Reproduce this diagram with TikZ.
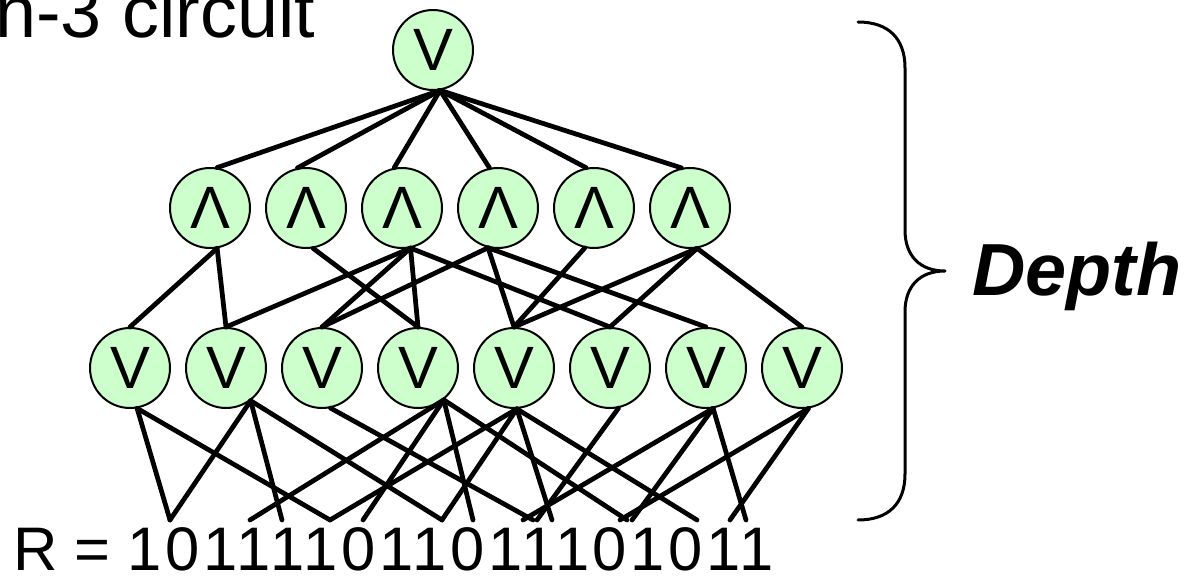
\documentclass[tikz,border=0pt]{standalone}
\usepackage{fontspec}
\setmainfont{Liberation Sans}
\usepackage{tikz}
\definecolor{gatefill}{RGB}{204,255,204}

\begin{document}
\begin{tikzpicture}[line cap=round,line join=round,x=0.02cm,y=-0.02cm,
	gate/.style={circle,draw,line width=0.04cm,fill=gatefill,minimum size=1.6cm,inner sep=0pt,font=\fontsize{34}{34}\selectfont},
	wire/.style={line width=0.095cm}]
	\useasboundingbox (0,0) rectangle (1187,577);
	% gates
	\node[gate] (top) at (433,50) {V};
	\foreach \i in {1,...,6} \node[gate] (a\i) at (114+96*\i,208) {Λ};
	\foreach \i in {1,...,8} \node[gate] (o\i) at (34+96*\i,368) {V};
	% input bits
	\foreach \x [count=\i] in {170,250,282,330,363,442,473,523,533,537,552,620,627,632,697,730,746}
		\coordinate (r\i) at (\x,520);
	% wires
	\foreach \i/\ang in {1/80,2/102,3/101,4/102,5/101,6/102}
		\draw[wire] (top.-80) -- (a\i.\ang);
	\foreach \a/\ang/\o in {1/-80/1,1/-80/2,2/-80/4,3/-78/2,3/-78/3,3/-78/4,3/-78/6,4/-104/3,4/-104/5,4/-104/7,5/-103/5,6/-80/5,6/-80/6,6/-80/8}
		\draw[wire] (a\a.\ang) -- (o\o.north);
	\foreach \o/\ang/\b in {1/-80/1,1/-80/4,2/-53/1,2/-53/3,2/-53/6,3/-78/9,4/-51/2,4/-51/5,4/-51/7,4/-51/13,5/-86/4,5/-86/6,5/-86/11,5/-86/15,6/-78/10,7/-80/8,7/-80/14,7/-80/17,8/-81/12,8/-81/16}
		\draw[wire] (o\o.\ang) -- (r\b);
	% brace
	\draw[line width=0.06cm] (858,22) .. controls (888,22) and (905,38) .. (905,68) -- (905,230) .. controls (905,256) and (920,271) .. (945,271) .. controls (920,271) and (905,286) .. (905,312) -- (905,474) .. controls (905,504) and (888,520) .. (858,520);
	% texts
	\node[anchor=base west,inner sep=0pt,font=\fontsize{42}{42}\selectfont] (title) at (-5,38) {n-3 circuit};
	\node[anchor=base west,inner sep=0pt,font=\fontsize{35}{35}\selectfont] (input) at (13,570) {R = {\addfontfeature{LetterSpace=6}101111011011101011}};
	\node[anchor=base west,inner sep=0pt,font=\fontsize{42}{42}\selectfont\bfseries\itshape] (depth) at (972,296) {Depth};
\end{tikzpicture}
\end{document}
